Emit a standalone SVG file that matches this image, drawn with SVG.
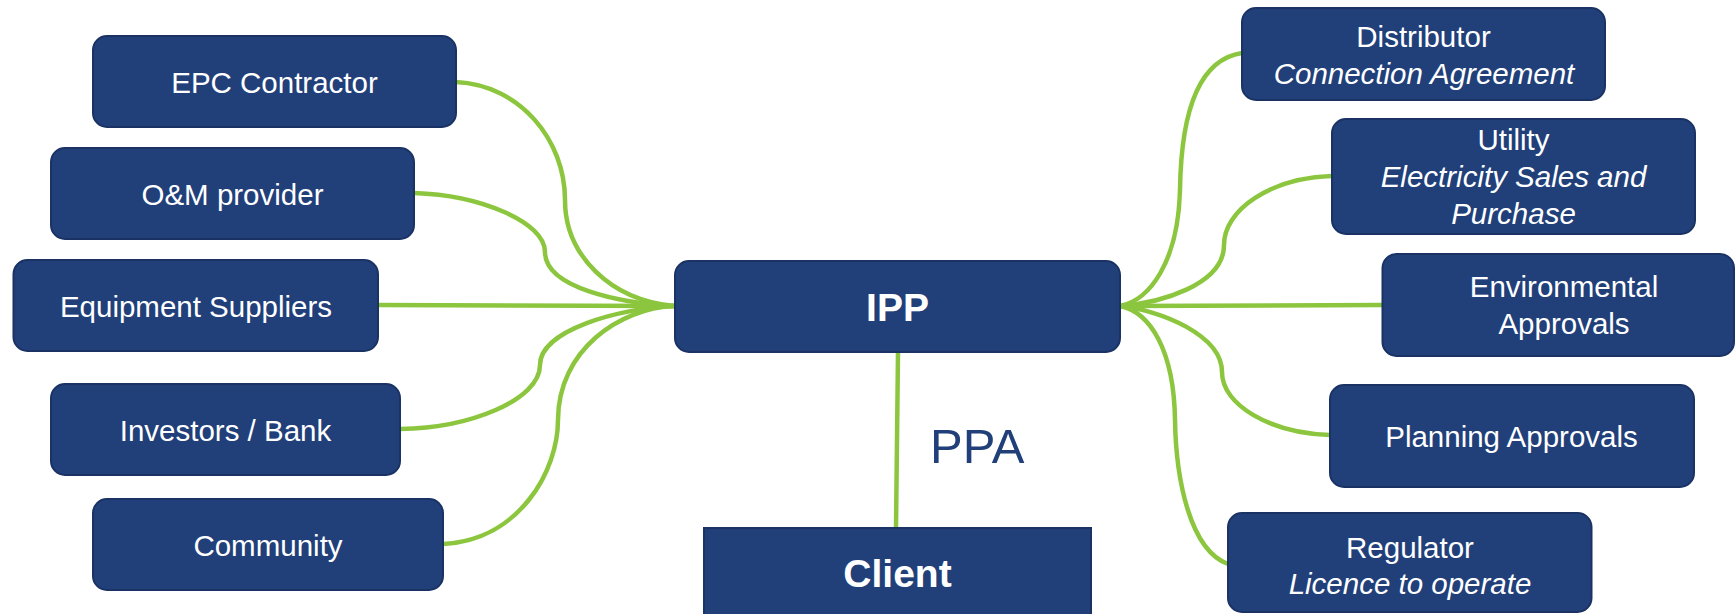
<svg xmlns="http://www.w3.org/2000/svg" width="1735" height="614" viewBox="0 0 1735 614">
<style>
.box{fill:#21407a;stroke:#1a3264;stroke-width:2}
.t{font-family:"Liberation Sans",Arial,sans-serif;font-size:29.5px;fill:#ffffff;text-anchor:middle}
.i{font-style:italic}
.b{font-weight:bold;font-size:39px}
.c{fill:none;stroke:#8cc63f;stroke-width:4.5;stroke-linecap:round}
.lbl{font-family:"Liberation Sans",Arial,sans-serif;font-size:49px;fill:#21407a}
</style>
<rect width="1735" height="614" fill="#ffffff"/>
<g id="connectors">
<path class="c" d="M456,82 C520,85 565,140 565,200 C565,255 610,300 674,306"/>
<path class="c" d="M414,193 C480,195 545,222 545,252 C545,288 620,303 674,306"/>
<path class="c" d="M378,305 L674,306"/>
<path class="c" d="M400,429 C470,428 540,400 540,365 C540,330 620,308 674,306"/>
<path class="c" d="M443,544 C520,540 558,470 558,420 C558,350 620,308 674,306"/>
<path class="c" d="M1242,53 C1195,60 1181,120 1180,190 C1178,262 1150,300 1120,306"/>
<path class="c" d="M1332,176 C1270,178 1224,210 1224,245 C1224,285 1160,303 1120,306"/>
<path class="c" d="M1120,306 L1382,305"/>
<path class="c" d="M1330,435 C1270,433 1222,405 1222,372 C1222,335 1160,310 1120,306"/>
<path class="c" d="M1228,564 C1190,550 1176,480 1175,420 C1174,350 1150,312 1120,306"/>
<path class="c" d="M898,352 L896,528"/>
<text class="lbl" x="930" y="463">PPA</text>
</g>
<g id="epc"><rect class="box" x="93" y="36" width="363" height="91" rx="14"/><text class="t" x="274.5" y="93">EPC Contractor</text></g>
<g id="om"><rect class="box" x="51" y="148" width="363" height="91" rx="14"/><text class="t" x="232.5" y="205">O&amp;M provider</text></g>
<g id="equipment"><rect class="box" x="13.5" y="260" width="364.5" height="91" rx="14"/><text class="t" x="196" y="317">Equipment Suppliers</text></g>
<g id="investors"><rect class="box" x="51" y="384" width="349" height="91" rx="14"/><text class="t" x="225.5" y="441">Investors / Bank</text></g>
<g id="community"><rect class="box" x="93" y="499" width="350" height="91" rx="14"/><text class="t" x="268" y="556">Community</text></g>
<g id="ipp"><rect class="box" x="675" y="261" width="445" height="91" rx="14"/><text class="t b" x="897.5" y="321">IPP</text></g>
<g id="client"><rect class="box" x="704" y="528" width="387" height="100"/><text class="t b" x="897.5" y="587">Client</text></g>
<g id="distributor"><rect class="box" x="1242" y="8" width="363" height="92" rx="14"/><text class="t" x="1423.5" y="47">Distributor</text><text class="t i" x="1424" y="84">Connection Agreement</text></g>
<g id="utility"><rect class="box" x="1332" y="119" width="363" height="115" rx="14"/><text class="t" x="1513.5" y="150">Utility</text><text class="t i" x="1513.5" y="187">Electricity Sales and</text><text class="t i" x="1513.5" y="224">Purchase</text></g>
<g id="environmental"><rect class="box" x="1382.5" y="254" width="351.5" height="102" rx="14"/><text class="t" x="1564" y="297">Environmental</text><text class="t" x="1564" y="334">Approvals</text></g>
<g id="planning"><rect class="box" x="1330" y="385" width="364" height="102" rx="14"/><text class="t" x="1511.5" y="447">Planning Approvals</text></g>
<g id="regulator"><rect class="box" x="1228" y="513" width="363.5" height="99" rx="14"/><text class="t" x="1410" y="558">Regulator</text><text class="t i" x="1410" y="594">Licence to operate</text></g>
</svg>
